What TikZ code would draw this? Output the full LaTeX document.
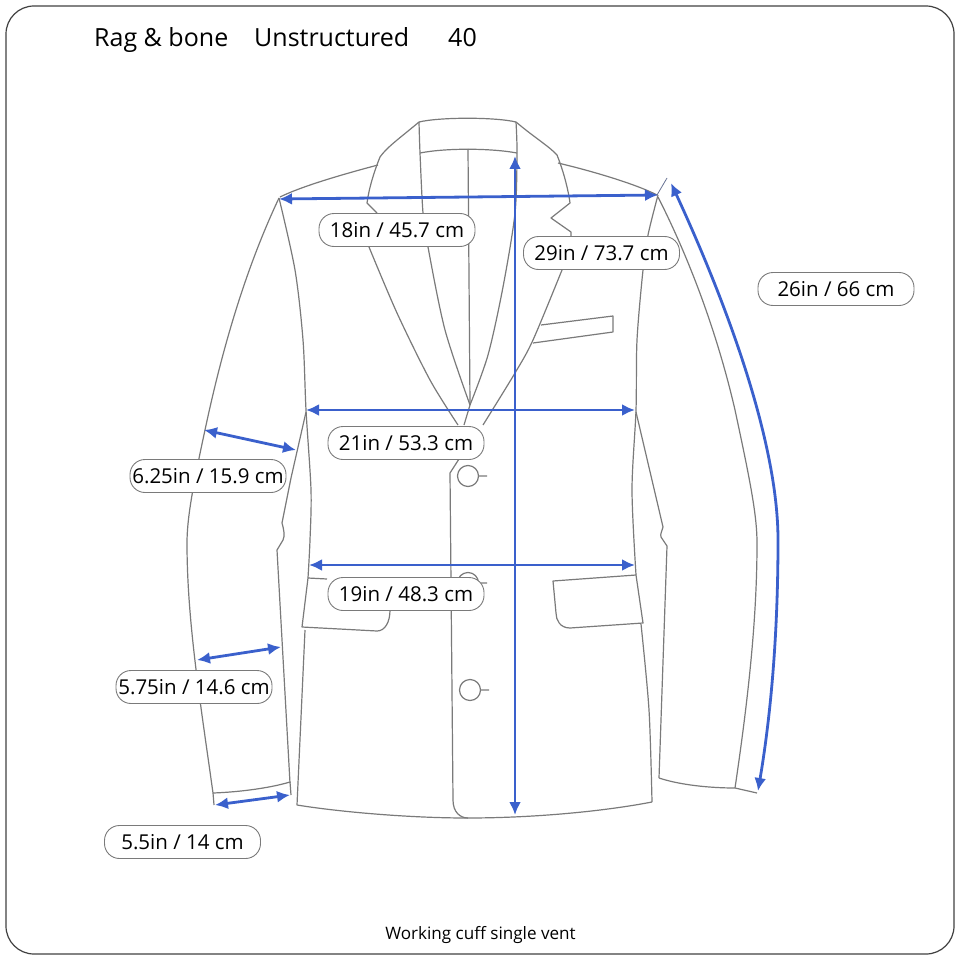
\documentclass[tikz,border=0pt]{standalone}
\usepackage{fontspec}
\setmainfont{Open Sans}
\usetikzlibrary{arrows.meta}
\definecolor{jacketgray}{HTML}{7A7A7A}
\definecolor{dimblue}{HTML}{3A60CC}
\tikzset{
  jacket/.style={draw=jacketgray, line width=1.2pt, line join=round},
  dimline/.style={draw=dimblue, line width=2.8pt, <->, >={Latex[length=13pt,width=12pt]}},
  sizelabel/.style={draw=jacketgray, fill=white, line width=0.9pt, rounded corners=15pt, minimum width=156pt, minimum height=33pt, inner sep=0pt, text height=19pt, text depth=4pt, font=\fontsize{20.5}{25}\selectfont},
  titletext/.style={anchor=base west, inner sep=0pt, font=\fontsize{25}{30}\selectfont}
}
\begin{document}
\begin{tikzpicture}[x=1pt, y=-1pt]
  \useasboundingbox (0,0) rectangle (960,960);
  \draw[black!75, line width=1.2pt, rounded corners=28pt] (6,6) rectangle (954,954);
  \node[titletext] (brand) at (94,47) {Rag \& bone};
  \node[titletext] (model) at (254,47) {Unstructured};
  \node[titletext] (size) at (448,47) {40};
  \node[anchor=base, inner sep=0pt, font=\fontsize{17.1}{21}\selectfont] (note) at (480.5,939) {Working cuff single vent};
  % collar and lapels
  \draw[jacket] (419,122) .. controls (440,117) and (495,117) .. (516,122);
  \draw[jacket] (420,153) .. controls (445,148) and (490,148) .. (517,153);
  \draw[jacket] plot[smooth] coordinates {(419,122) (420,153) (423,213) (428,247) (445,330) (470,405)};
  \draw[jacket] plot[smooth] coordinates {(516,122) (517,153) (515,213) (503,287) (488,355) (470,405)};
  \draw[jacket] (468,149) -- (470,405) -- (464,425);
  \draw[jacket] (419,122) .. controls (400,138) and (387,147) .. (380,157) .. controls (374,172) and (369,188) .. (367,203) -- (377,213);
  \draw[jacket] plot[smooth] coordinates {(369,247) (397,313) (430,380) (458,425)};
  \draw[jacket] (516,122) .. controls (535,138) and (550,147) .. (557,155) .. controls (563,170) and (568,188) .. (570,203) -- (551,218) -- (571,232) -- (571,236);
  \draw[jacket] plot[smooth] coordinates {(562,270) (533,340) (515,373) (483,425)};
  % shoulders and breast pocket
  \draw[jacket] (378,165) .. controls (340,175) and (300,187) .. (280,197);
  \draw[jacket] (558,163) .. controls (600,173) and (640,186) .. (657,195);
  \draw[jacket] (541,325) -- (613,316) -- (613,332) -- (533,343);
  \draw[draw=jacketgray!70!dimblue, line width=0.8pt] (657,195) -- (667,178);
  % body
  \draw[jacket] plot[smooth] coordinates {(279,198) (295,270) (303,340) (306,410) (311,490) (310,540) (308,578)};
  \draw[jacket] (308,578) -- (327,579);
  \draw[jacket] (308,578) -- (302,627) -- (377,631) .. controls (385,631) and (390,622) .. (390,610) -- (390,600);
  \draw[jacket] (305,630) -- (297,805) .. controls (340,812) and (410,818) .. (467,818) .. controls (530,818) and (600,812) .. (652,802);
  \draw[jacket] (459,459) -- (450,473) -- (453,800) .. controls (453,812) and (460,818) .. (468,818);
  \draw[jacket] plot[smooth] coordinates {(658,195) (648,235) (643,270) (637,340) (636,410) (632,490) (636,575)};
  \draw[jacket] (553,581) -- (636,575) -- (643,623) -- (570,628) .. controls (560,628) and (556,620) .. (556,613) -- cycle;
  \draw[jacket] plot[smooth] coordinates {(641,624) (649,710) (652,802)};
  % buttons
  \draw[jacket] (468,476) circle (10.5pt) (478.5,476) -- (487,476);
  \draw[jacket] (468,583) circle (10.5pt) (478.5,583) -- (487,583);
  \draw[jacket] (470,690) circle (10.5pt) (480.5,690) -- (489,690);
  % left sleeve
  \draw[jacket] (279,198) .. controls (245,270) and (222,350) .. (205,430) .. controls (192,490) and (187,520) .. (187,543) .. controls (187,620) and (200,700) .. (213,793);
  \draw[jacket] (213,793) .. controls (240,792) and (270,788) .. (290,782);
  \draw[jacket] (213,793) -- (214,805) (290,782) -- (291,795);
  \draw[jacket] (306,412) -- (291,478) -- (282,523) .. controls (284,530) and (285,536) .. (283,540) -- (277,550) -- (290,783);
  % right sleeve
  \draw[jacket] (658,197) .. controls (695,270) and (720,345) .. (735,410) .. controls (750,480) and (757,515) .. (757,543) .. controls (757,620) and (748,700) .. (735,788);
  \draw[jacket] (636,412) -- (663,527) .. controls (662,531) and (660,534) .. (661,537) -- (667,546) -- (659,778);
  \draw[jacket] (659,778) .. controls (680,785) and (710,788) .. (735,788) -- (757,793);
  % measures
  \coordinate (shoulderL) at (279,199);
  \coordinate (shoulderR) at (658,195);
  \coordinate (collarTop) at (515,156);
  \coordinate (hemEnd) at (515,815);
  \coordinate (chestL) at (306,410);
  \coordinate (chestR) at (635,410);
  \coordinate (waistL) at (309,565);
  \coordinate (waistR) at (635,565);
  \coordinate (bicepL) at (204,430);
  \coordinate (bicepR) at (296,450);
  \coordinate (foreL) at (197,660);
  \coordinate (foreR) at (281,647);
  \coordinate (cuffL) at (215,805);
  \coordinate (cuffR) at (290,795);
  \draw[dimline] (shoulderL) -- (shoulderR);
  \draw[dimline] (collarTop) -- (hemEnd);
  \draw[dimline] (chestL) -- (chestR);
  \draw[dimline] (waistL) -- (waistR);
  \draw[dimline] (bicepL) -- (bicepR);
  \draw[dimline] (foreL) -- (foreR);
  \draw[dimline] (cuffL) -- (cuffR);
  \coordinate (sleeveTop) at (671,183);
  \coordinate (sleeveEnd) at (758,791);
  \draw[dimline] (sleeveTop) .. controls (725,300) and (778,440) .. (778,540) .. controls (778,640) and (770,720) .. (sleeveEnd);
  % labels
  \node[sizelabel] (shoulder) at (397,230) {18in / 45.7 cm};
  \node[sizelabel] (length) at (601.5,253) {29in / 73.7 cm};
  \node[sizelabel] (sleeve) at (836,289) {26in / 66 cm};
  \node[sizelabel] (chest) at (406,443) {21in / 53.3 cm};
  \node[sizelabel] (bicep) at (208,476) {6.25in / 15.9 cm};
  \node[sizelabel] (waist) at (406,594) {19in / 48.3 cm};
  \node[sizelabel] (fore) at (194,687) {5.75in / 14.6 cm};
  \node[sizelabel] (cuff) at (182.5,842) {5.5in / 14 cm};
\end{tikzpicture}
\end{document}
